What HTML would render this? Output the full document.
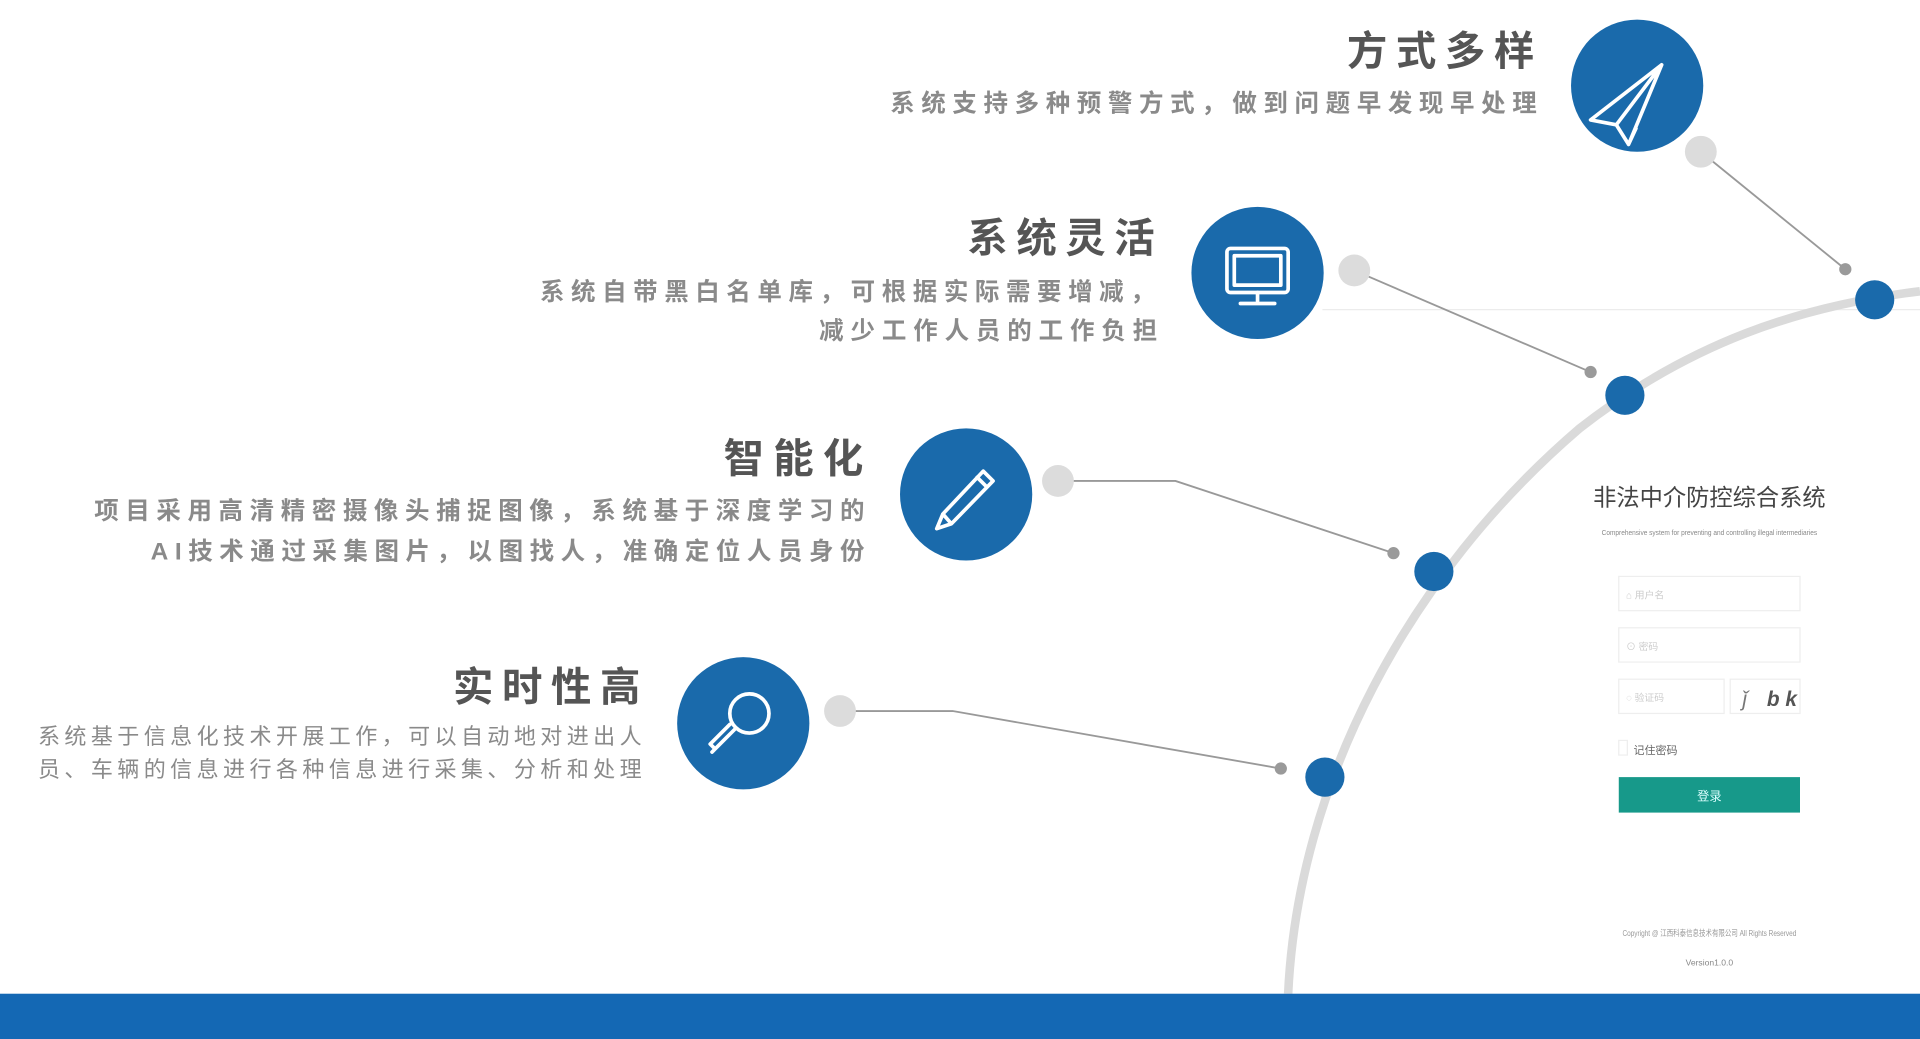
<!DOCTYPE html>
<html><head><meta charset="utf-8"><style>
html,body{margin:0;padding:0;background:#fff;overflow:hidden}
svg{display:block}
text{font-family:"Liberation Sans","Noto Sans CJK SC",sans-serif}
</style></head><body>
<svg width="1920" height="1039" viewBox="0 0 1568 849" preserveAspectRatio="none" xmlns="http://www.w3.org/2000/svg">
<rect width="1568" height="849" fill="#fff"/>
<line x1="1080" y1="253" x2="1568" y2="253" stroke="#ececec" stroke-width="1"/>
<path d="M1052 812 C1060 640 1150 470 1290 350 C1380 280 1470 250 1568 238" fill="none" stroke="#dadada" stroke-width="7"/>
<g stroke="#999" stroke-width="1.5" fill="none">
<polyline points="1389,124 1507,220"/>
<polyline points="1106,221 1299,304"/>
<polyline points="864,393 960,393 1138,452"/>
<polyline points="686,581 778,581 1046,628"/>
</g>
<g fill="#dcdcdc">
<circle cx="1389" cy="124" r="13"/><circle cx="1106" cy="221" r="13"/>
<circle cx="864" cy="393" r="13"/><circle cx="686" cy="581" r="13"/>
</g>
<g fill="#9a9a9a">
<circle cx="1507" cy="220" r="5"/><circle cx="1299" cy="304" r="5"/>
<circle cx="1138" cy="452" r="5"/><circle cx="1046" cy="628" r="5"/>
</g>
<g fill="#1a6aab">
<circle cx="1531" cy="245" r="16"/><circle cx="1327" cy="323" r="16"/>
<circle cx="1171" cy="467" r="16"/><circle cx="1082" cy="635" r="16"/>
<circle cx="1337" cy="70" r="54"/><circle cx="1027" cy="223" r="54"/>
<circle cx="789" cy="404" r="54"/><circle cx="607" cy="591" r="54"/>
</g>
<!-- icons -->
<g stroke="#fff" stroke-width="3" fill="none" stroke-linejoin="round" stroke-linecap="round">
<path d="M1357 53 L1299 98 L1320 102 L1330 118 Z M1357 53 L1320 102 M1357 53 L1330 118 L1336 105"/>
<rect x="1002" y="203" width="50" height="36" rx="3"/>
<rect x="1008" y="209" width="38" height="24"/>
<path d="M1027 239 V246 M1013 248 H1041"/>
<path d="M803 385 L770 420 L765 432 L777 428 L811 393 Z M798 390 L806 398 M770 420 L777 428"/>
<circle cx="612" cy="583" r="16"/>
<path d="M600 596 L584 612 Q579 617 584 612 L580 608 L596 592"/>
</g>
<!-- titles -->
<g fill="#555" font-weight="bold" font-size="33">
<text x="1253" y="53" text-anchor="end" textLength="153" lengthAdjust="spacing">方式多样</text>
<text x="943" y="206" text-anchor="end" textLength="153" lengthAdjust="spacing">系统灵活</text>
<text x="705" y="386" text-anchor="end" textLength="114" lengthAdjust="spacing">智能化</text>
<text x="523" y="573" text-anchor="end" textLength="153" lengthAdjust="spacing">实时性高</text>
</g>
<g fill="#8a8a8a" font-weight="bold" font-size="20">
<text x="1255" y="91" text-anchor="end" textLength="528" lengthAdjust="spacing">系统支持多种预警方式，做到问题早发现早处理</text>
<text x="943" y="245" text-anchor="end" textLength="502" lengthAdjust="spacing">系统自带黑白名单库，可根据实际需要增减，</text>
<text x="945" y="277" text-anchor="end" textLength="276" lengthAdjust="spacing">减少工作人员的工作负担</text>
<text x="706" y="424" text-anchor="end" textLength="629" lengthAdjust="spacing">项目采用高清精密摄像头捕捉图像，系统基于深度学习的</text>
<text x="706" y="457" text-anchor="end" textLength="583" lengthAdjust="spacing">AI技术通过采集图片，以图找人，准确定位人员身份</text>
</g>
<g fill="#8a8a8a" font-size="18">
<text x="524" y="608" text-anchor="end" textLength="493" lengthAdjust="spacing">系统基于信息化技术开展工作，可以自动地对进出人</text>
<text x="524" y="635" text-anchor="end" textLength="493" lengthAdjust="spacing">员、车辆的信息进行各种信息进行采集、分析和处理</text>
</g>
<!-- login -->
<text x="1396" y="413" text-anchor="middle" font-size="19" fill="#444">非法中介防控综合系统</text>
<text x="1396" y="437" text-anchor="middle" font-size="6" fill="#888" textLength="176" lengthAdjust="spacingAndGlyphs">Comprehensive system for preventing and controlling illegal intermediaries</text>
<g fill="#fff" stroke="#eee" stroke-width="1">
<rect x="1322" y="471" width="148" height="28"/>
<rect x="1322" y="513" width="148" height="28"/>
<rect x="1322" y="555" width="86" height="28"/>
<rect x="1413" y="555" width="57" height="28"/>
<rect x="1322" y="605" width="7" height="12"/>
</g>
<g fill="#ccc" font-size="8">
<text x="1328" y="489">⌂ 用户名</text>
<text x="1328" y="531">⊙ 密码</text>
<text x="1328" y="573">◌ 验证码</text>
</g>
<text x="1443" y="577" font-size="17" font-style="italic" font-weight="bold" fill="#555">b k</text>
<text x="1423" y="577" font-size="17" font-style="italic" fill="#777">ǰ</text>
<text x="1334" y="616" font-size="9" fill="#666">记住密码</text>
<rect x="1322" y="635" width="148" height="29" fill="#17998a"/>
<text x="1396" y="654" text-anchor="middle" font-size="10" fill="#dff">登录</text>
<text x="1396" y="765" text-anchor="middle" font-size="7" fill="#999" textLength="142" lengthAdjust="spacingAndGlyphs">Copyright @ 江西科泰信息技术有限公司 All Rights Reserved</text>
<text x="1396" y="789" text-anchor="middle" font-size="7" fill="#888">Version1.0.0</text>
<rect x="0" y="812" width="1568" height="37" fill="#1468b4"/>
</svg>
</body></html>
